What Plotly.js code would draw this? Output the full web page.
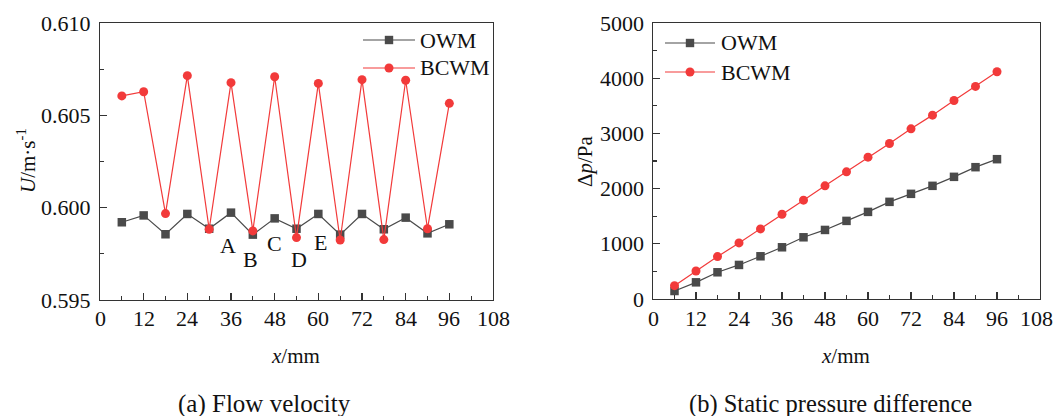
<!DOCTYPE html>
<html><head><meta charset="utf-8">
<script src="https://cdn.plot.ly/plotly-3.0.1.min.js"></script>
<style>html,body{margin:0;padding:0;background:#fff}#c{width:1055px;height:416px}</style>
</head><body><div id="c"></div>
<script>
const xPos = [6,12,18,24,30,36,42,48,54,60,66,72,78,84,90,96];
const uOWM = [0.59921,0.59958,0.59856,0.59966,0.59886,0.59973,0.59854,0.59942,0.59886,0.59966,0.59854,0.59966,0.59883,0.59946,0.59861,0.59910];
const uBCWM = [0.60605,0.60628,0.59968,0.60715,0.59883,0.60677,0.59874,0.60709,0.59838,0.60673,0.59825,0.60693,0.59827,0.60690,0.59886,0.60565];
const pOWM = [145,302,484,617,774,937,1118,1251,1415,1578,1760,1905,2050,2213,2388,2533];
const pBCWM = [242,508,768,1016,1270,1536,1790,2050,2304,2570,2817,3083,3331,3597,3851,4117];
const seriesNames = ['OWM','BCWM'];
const xTicks = [0,12,24,36,48,60,72,84,96,108];
const uTicks = [0.595,0.600,0.605,0.610];
const uTickText = ['0.595','0.600','0.605','0.610'];
const pTicks = [0,1000,2000,3000,4000,5000];
const pointLabels = ['A','B','C','D','E'];
const labelX = [35.3,41.3,48,54.6,60.6];
const labelY = [0.59796,0.59720,0.59807,0.59720,0.59814];

const GRAY='#4a4a4a', RED='#f23a3a';
const serif='Liberation Serif';
const W=1055,H=416;
function px(x){return x/W;} function py(y){return 1-y/H;}

const sq={symbol:'square',size:8.5,color:GRAY};
const ci={symbol:'circle',size:9,color:RED};
const traces=[
 {x:xPos,y:uOWM,name:seriesNames[0],mode:'lines+markers',line:{color:GRAY,width:1.2},marker:sq,xaxis:'x',yaxis:'y'},
 {x:xPos,y:uBCWM,name:seriesNames[1],mode:'lines+markers',line:{color:RED,width:1.2},marker:ci,xaxis:'x',yaxis:'y'},
 {x:xPos,y:pOWM,name:seriesNames[0],mode:'lines+markers',line:{color:GRAY,width:1.2},marker:sq,xaxis:'x2',yaxis:'y2'},
 {x:xPos,y:pBCWM,name:seriesNames[1],mode:'lines+markers',line:{color:RED,width:1.2},marker:ci,xaxis:'x2',yaxis:'y2'}
];
function ax(extra){return Object.assign({showline:true,mirror:true,linecolor:'#333',linewidth:1.3,ticks:'inside',ticklen:7,tickwidth:1.3,tickcolor:'#333',showgrid:false,zeroline:false,showticklabels:false},extra);}
const ann=[], shapes=[];
const tf={family:serif,size:22,color:'#111'};
pointLabels.forEach((t,i)=>ann.push({x:labelX[i],y:labelY[i],xref:'x',yref:'y',text:t,showarrow:false,font:{family:serif,size:22,color:'#111'}}));
// tick labels
xTicks.forEach((v,i)=>{
  ann.push({x:v,xref:'x',y:py(318),yref:'paper',text:String(v),showarrow:false,xanchor:'center',yanchor:'middle',font:tf});
  const last=i===xTicks.length-1;
  ann.push({x:v,xref:'x2',y:py(318),yref:'paper',text:String(v),showarrow:false,xanchor:last?'right':'center',xshift:last?15:0,yanchor:'middle',font:tf});
});
uTicks.forEach((v,i)=>ann.push({x:px(93),xref:'paper',y:v,yref:'y',text:uTickText[i],showarrow:false,xanchor:'right',yanchor:'middle',font:tf}));
pTicks.forEach(v=>ann.push({x:px(646),xref:'paper',y:v,yref:'y2',text:String(v),showarrow:false,xanchor:'right',yanchor:'middle',font:tf}));

function pa(x,y,text,opts){ann.push(Object.assign({x:px(x),y:py(y),xref:'paper',yref:'paper',xanchor:'center',yanchor:'middle',text:text,showarrow:false,font:{family:serif,size:21,color:'#111'}},opts||{}));}
pa(295,356,'<i>x</i>/mm');
pa(845,356,'<i>x</i>/mm');
pa(26,161,'<i>U</i>/m·s<sup>-1</sup>',{textangle:-90});
pa(585,161,'Δ<i>p</i>/Pa',{textangle:-90});
pa(264,404,'(a) Flow velocity',{font:{family:serif,size:25,color:'#111'}});
pa(830,404,'(b) Static pressure difference',{font:{family:serif,size:24.5,color:'#111'}});

function legend(x0,x1,yRows,textX){
  [GRAY,RED].forEach((c,i)=>{
    const y=yRows[i], xm=(x0+x1)/2;
    shapes.push({type:'line',xref:'paper',yref:'paper',x0:px(x0),x1:px(x1),y0:py(y),y1:py(y),line:{color:c,width:1.2}});
    if(i===0) shapes.push({type:'rect',xref:'paper',yref:'paper',x0:px(xm-4.2),x1:px(xm+4.2),y0:py(y+4.2),y1:py(y-4.2),fillcolor:c,line:{width:0}});
    else shapes.push({type:'circle',xref:'paper',yref:'paper',x0:px(xm-4.5),x1:px(xm+4.5),y0:py(y+4.5),y1:py(y-4.5),fillcolor:c,line:{width:0}});
    pa(textX,y,seriesNames[i],{xanchor:'left',font:{family:serif,size:22,color:'#111'}});
  });
}
legend(363,415,[40,68],418);
legend(665,715,[43,72],719);

const layout={
 width:W,height:H,margin:{l:0,r:0,t:0,b:0},paper_bgcolor:'#fff',plot_bgcolor:'#fff',
 font:{family:serif,color:'#111'},showlegend:false,
 xaxis:ax({domain:[px(100),px(493)],range:[0,108],tickvals:xTicks,minor:{ticks:'inside',dtick:6,tick0:0,ticklen:4,tickcolor:'#333',tickwidth:1.2},anchor:'y'}),
 yaxis:ax({domain:[py(300),py(23)],range:[0.595,0.610],tickvals:uTicks,minor:{ticks:'inside',dtick:0.0025,tick0:0.595,ticklen:4,tickcolor:'#333',tickwidth:1.2},anchor:'x'}),
 xaxis2:ax({domain:[px(653),px(1040)],range:[0,108],tickvals:xTicks,minor:{ticks:'inside',dtick:6,tick0:0,ticklen:4,tickcolor:'#333',tickwidth:1.2},anchor:'y2'}),
 yaxis2:ax({domain:[py(299),py(23)],range:[0,5000],tickvals:pTicks,minor:{ticks:'inside',dtick:500,tick0:0,ticklen:4,tickcolor:'#333',tickwidth:1.2},anchor:'x2'}),
 annotations:ann,shapes:shapes
};
Plotly.newPlot('c',traces,layout,{staticPlot:true,displayModeBar:false});
</script></body></html>
